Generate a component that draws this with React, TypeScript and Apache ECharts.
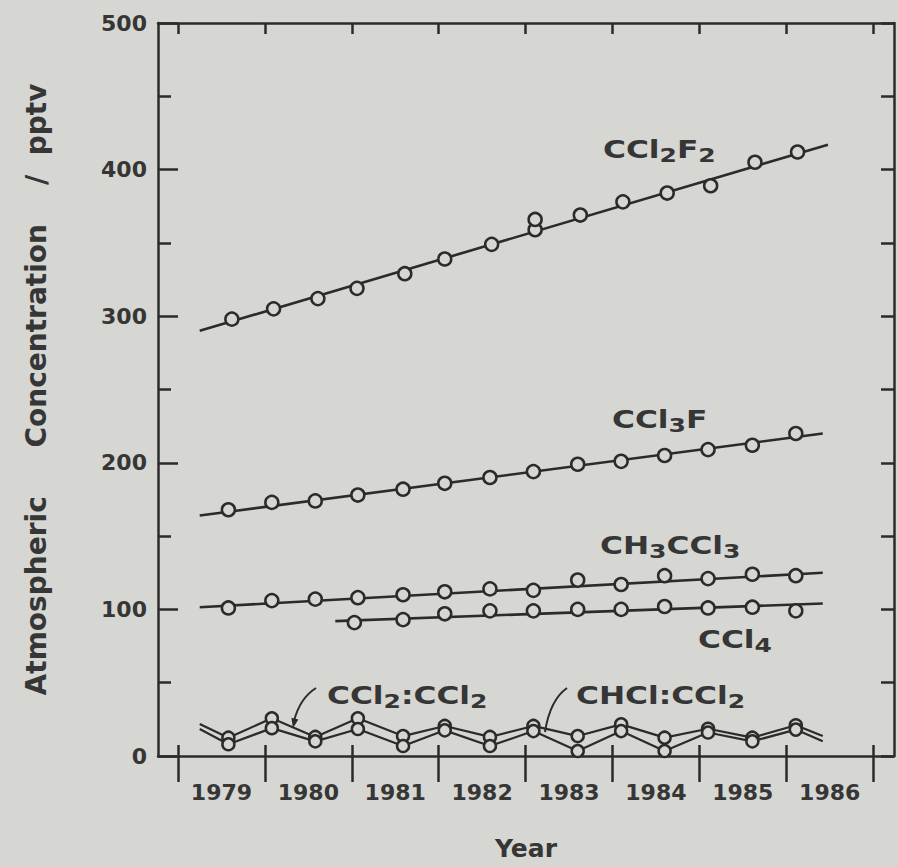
import React, { useEffect, useRef } from "react";
import * as echarts from "echarts";

// ---- data (decimal years, pptv) ----
const X_HALF = [1979.58, 1980.08, 1980.58, 1981.07, 1981.59, 1982.07, 1982.59, 1983.09, 1983.6, 1984.1, 1984.6, 1985.1, 1985.61, 1986.11];
const X_F2 = [1979.62, 1980.1, 1980.61, 1981.06, 1981.61, 1982.07, 1982.61, 1983.11, 1983.63, 1984.12, 1984.63, 1985.13, 1985.64, 1986.13];
const CCL2F2 = [298, 305, 312, 319, 329, 339, 349, 359, 369, 378, 384, 389, 405, 412];
const CCL2F2_EXTRA_X = [1983.11];
const CCL2F2_EXTRA = [366];
const CCL3F = [168, 173, 174, 178, 182, 186, 190, 194, 199, 201, 205, 209, 212, 220];
const CH3CCL3 = [101, 106, 107, 108, 110, 112, 114, 113, 120, 117, 123, 121, 124, 123];
const X_CCL4 = [1981.03, 1981.59, 1982.07, 1982.59, 1983.09, 1983.6, 1984.1, 1984.6, 1985.1, 1985.61, 1986.11];
const CCL4 = [91, 93, 97, 99, 99, 100, 100, 102, 101, 101.5, 99];
const C2CL4 = [12.5, 25.7, 13, 25.7, 13.6, 20.5, 13, 20.5, 13.6, 21.6, 12.5, 18.6, 12.5, 21];
const C2HCL3 = [8, 19, 10, 18.4, 6.8, 17.5, 6.8, 17, 3.4, 17, 3.4, 16, 10, 18];
const ZIG_X = [1979.25, 1986.42];
const C2CL4_ENDS = [21.8, 13.6];
const C2HCL3_ENDS = [18.4, 10];

// fitted trend lines: [x0, x1], [y0, y1]
const FIT_CCL2F2_X = [1979.25, 1986.48];
const FIT_CCL2F2_Y = [290, 417];
const FIT_CCL3F_X = [1979.25, 1986.42];
const FIT_CCL3F_Y = [164, 220];
const FIT_CH3CCL3_X = [1979.25, 1986.42];
const FIT_CH3CCL3_Y = [101.5, 125];
const FIT_CCL4_X = [1980.81, 1986.42];
const FIT_CCL4_Y = [92, 104];

const YEAR_TICKS = [1979, 1980, 1981, 1982, 1983, 1984, 1985, 1986, 1987];
const YEAR_LABEL_POS = [1979.5, 1980.5, 1981.5, 1982.5, 1983.5, 1984.5, 1985.5, 1986.5];

const X_MIN = 1978.77;
const X_MAX = 1987.24;

const BG = "#d6d6d2";
const INK = "#2b2b2b";
const TXT = "#363636";
const FONT = "DejaVu Sans";

const zip = (xs: number[], ys: number[]) => ys.map((y, i) => [xs[i], y]);

function formula(s: string) {
  const parts = s.match(/(\d+|[^\d]+)/g) || [];
  return parts.map((p) => (/^\d+$/.test(p) ? `{s|${p}}` : `{m|${p}}`)).join("");
}

function label(text: string, x: number, y: number) {
  return {
    type: "text",
    x,
    y,
    scaleX: 1.25,
    silent: true,
    style: {
      text: formula(text),
      align: "left",
      verticalAlign: "middle",
      fill: TXT,
      fontFamily: FONT,
      fontWeight: "bold",
      rich: {
        m: { fontSize: 25, lineHeight: 30, fontFamily: FONT, fontWeight: "bold", fill: TXT },
        s: { fontSize: 20, lineHeight: 18, verticalAlign: "bottom", fontFamily: FONT, fontWeight: "bold", fill: TXT },
      },
    },
  };
}

export default function App() {
  const ref = useRef<HTMLDivElement>(null);

  useEffect(() => {
    if (!ref.current) return;
    const chart = echarts.init(ref.current, undefined, { renderer: "svg" });

    const axisLineStyle = { color: INK, width: 2.5 };
    const markerStyle = { color: BG, borderColor: INK, borderWidth: 2.5, opacity: 1 };

    const fitSeries = (name: string, xs: number[], ys: number[]) => ({
      name,
      type: "line",
      data: zip(xs, ys),
      showSymbol: false,
      symbol: "none",
      lineStyle: { color: INK, width: 2.6 },
      silent: true,
      z: 2,
    });
    const pointSeries = (name: string, xs: number[], ys: number[]) => ({
      name,
      type: "scatter",
      data: zip(xs, ys),
      symbol: "circle",
      symbolSize: 13,
      itemStyle: markerStyle,
      silent: true,
      z: 3,
    });
    const zigSeries = (name: string, ys: number[], ends: number[]) => ({
      name,
      type: "line",
      data: [
        { value: [ZIG_X[0], ends[0]], symbol: "none" },
        ...zip(X_HALF, ys),
        { value: [ZIG_X[1], ends[1]], symbol: "none" },
      ],
      symbol: "circle",
      symbolSize: 12,
      showSymbol: true,
      itemStyle: markerStyle,
      lineStyle: { color: INK, width: 2.2 },
      silent: true,
      z: 3,
    });

    const option: any = {
      animation: false,
      backgroundColor: BG,
      grid: { left: 158, right: 4, top: 23, bottom: 111, containLabel: false, outerBoundsMode: "none" },
      xAxis: [
        {
          type: "value",
          position: "bottom",
          min: X_MIN,
          max: X_MAX,
          splitLine: { show: false },
          axisLine: { show: true, onZero: false, lineStyle: axisLineStyle },
          axisTick: { show: true, inside: false, length: 26, customValues: YEAR_TICKS, lineStyle: axisLineStyle },
          axisLabel: {
            customValues: YEAR_LABEL_POS,
            formatter: (v: number) => String(Math.floor(v)),
            fontSize: 22,
            fontWeight: "bold",
            fontFamily: FONT,
            color: TXT,
            margin: 25,
          },
          name: "Year",
          nameLocation: "middle",
          nameGap: 80,
          nameTextStyle: { fontSize: 25, fontWeight: "bold", fontFamily: FONT, color: TXT },
        },
        {
          type: "value",
          position: "bottom",
          min: X_MIN,
          max: X_MAX,
          splitLine: { show: false },
          axisLine: { show: false, onZero: false },
          axisTick: { show: true, inside: true, length: 11, customValues: YEAR_TICKS, lineStyle: axisLineStyle },
          axisLabel: { show: false },
        },
        {
          type: "value",
          position: "top",
          min: X_MIN,
          max: X_MAX,
          splitLine: { show: false },
          axisLine: { show: true, onZero: false, lineStyle: axisLineStyle },
          axisTick: { show: true, inside: true, length: 11, customValues: YEAR_TICKS, lineStyle: axisLineStyle },
          axisLabel: { show: false },
        },
      ],
      yAxis: [
        {
          type: "value",
          position: "left",
          min: 0,
          max: 500,
          interval: 100,
          splitLine: { show: false },
          axisLine: { show: true, onZero: false, lineStyle: axisLineStyle },
          axisTick: { show: true, inside: true, length: 20, lineStyle: axisLineStyle },
          minorTick: { show: true, splitNumber: 2, length: 13, lineStyle: axisLineStyle },
          minorSplitLine: { show: false },
          axisLabel: { fontSize: 22, fontWeight: "bold", fontFamily: FONT, color: TXT, margin: 11 },
          name: "Atmospheric     Concentration    /  pptv",
          nameLocation: "middle",
          nameRotate: 90,
          nameGap: 108,
          nameTextStyle: { fontSize: 28, fontWeight: "bold", fontFamily: FONT, color: TXT },
        },
        {
          type: "value",
          position: "right",
          min: 0,
          max: 500,
          interval: 50,
          splitLine: { show: false },
          axisLine: { show: true, onZero: false, lineStyle: axisLineStyle },
          axisTick: { show: true, inside: true, length: 13, lineStyle: axisLineStyle },
          axisLabel: { show: false },
        },
      ],
      series: [
        fitSeries("CCl2F2 trend", FIT_CCL2F2_X, FIT_CCL2F2_Y),
        fitSeries("CCl3F trend", FIT_CCL3F_X, FIT_CCL3F_Y),
        fitSeries("CH3CCl3 trend", FIT_CH3CCL3_X, FIT_CH3CCL3_Y),
        fitSeries("CCl4 trend", FIT_CCL4_X, FIT_CCL4_Y),
        pointSeries("CCl2F2", X_F2, CCL2F2),
        pointSeries("CCl2F2 ", CCL2F2_EXTRA_X, CCL2F2_EXTRA),
        pointSeries("CCl3F", X_HALF, CCL3F),
        pointSeries("CH3CCl3", X_HALF, CH3CCL3),
        pointSeries("CCl4", X_CCL4, CCL4),
        zigSeries("CCl2:CCl2", C2CL4, C2CL4_ENDS),
        zigSeries("CHCl:CCl2", C2HCL3, C2HCL3_ENDS),
      ],
      graphic: [
        label("CCl2F2", 603, 150),
        label("CCl3F", 612, 420),
        label("CH3CCl3", 600, 546),
        label("CCl4", 698, 640),
        label("CCl2:CCl2", 327, 696),
        label("CHCl:CCl2", 576, 696),
        {
          type: "bezierCurve",
          silent: true,
          shape: { x1: 316, y1: 688, x2: 294, y2: 721, cpx1: 300, cpy1: 698 },
          style: { stroke: INK, lineWidth: 2, fill: "none" },
        },
        {
          type: "polygon",
          silent: true,
          shape: { points: [[298.4, 719.5], [291.4, 717.8], [293, 728]] },
          style: { fill: INK },
        },
        {
          type: "bezierCurve",
          silent: true,
          shape: { x1: 567, y1: 688, x2: 545, y2: 732, cpx1: 550, cpy1: 700 },
          style: { stroke: INK, lineWidth: 2, fill: "none" },
        },
      ],
    };

    chart.setOption(option);
    return () => chart.dispose();
  }, []);

  return (
    <div style={{ position: "fixed", left: 0, top: 0, width: 898, height: 867, background: BG }}>
      <div ref={ref} style={{ width: 898, height: 867 }} />
    </div>
  );
}
